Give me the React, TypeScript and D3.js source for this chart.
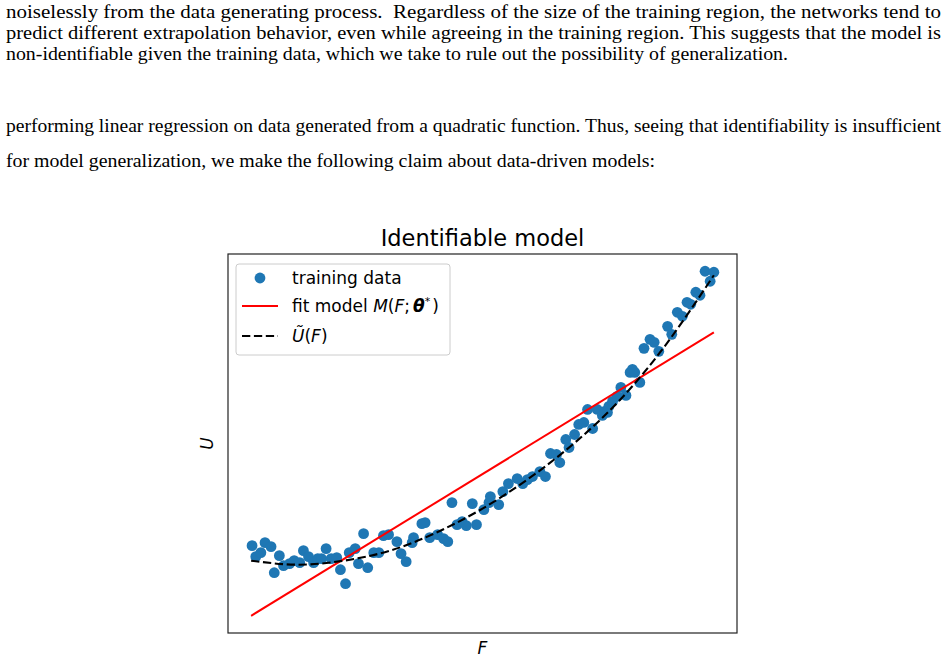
import * as d3 from "d3";
import React from "react";

// training samples drawn from the quadratic (F, U)
const sampleF = [
  0.002, 0.010, 0.021, 0.030, 0.043, 0.050, 0.061, 0.070, 0.083, 0.093,
  0.105, 0.113, 0.124, 0.135, 0.144, 0.152, 0.162, 0.173, 0.185, 0.193,
  0.204, 0.212, 0.225, 0.232, 0.243, 0.252, 0.265, 0.276, 0.286, 0.297,
  0.315, 0.324, 0.335, 0.348, 0.351, 0.369, 0.376, 0.386, 0.403, 0.416,
  0.425, 0.434, 0.445, 0.456, 0.465, 0.478, 0.487, 0.503, 0.514, 0.517,
  0.535, 0.544, 0.556, 0.575, 0.587, 0.597, 0.608, 0.624, 0.636, 0.647,
  0.660, 0.667, 0.680, 0.687, 0.699, 0.708, 0.719, 0.727, 0.738, 0.748,
  0.759, 0.764, 0.770, 0.773, 0.781, 0.791, 0.799, 0.810, 0.819, 0.824,
  0.829, 0.840, 0.849, 0.862, 0.871, 0.881, 0.900, 0.909, 0.921, 0.932,
  0.942, 0.950, 0.961, 0.970, 0.981, 0.992, 1.000,
];
const sampleU = [
  0.70, 0.59, 0.63, 0.73, 0.69, 0.43, 0.60, 0.50, 0.52, 0.55,
  0.53, 0.65, 0.59, 0.53, 0.57, 0.57, 0.67, 0.57, 0.58, 0.46,
  0.32, 0.63, 0.67, 0.52, 0.82, 0.48, 0.63, 0.63, 0.80, 0.81,
  0.74, 0.62, 0.54, 0.73, 0.78, 0.92, 0.93, 0.78, 0.81, 0.77,
  0.74, 1.13, 0.91, 0.94, 0.90, 1.12, 0.91, 1.06, 1.13, 1.19,
  1.11, 1.24, 1.32, 1.37, 1.32, 1.36, 1.39, 1.44, 1.39, 1.62,
  1.61, 1.53, 1.76, 1.68, 1.81, 1.91, 1.93, 2.06, 1.87, 2.06,
  2.00, 2.04, 2.03, 2.09, 2.14, 2.19, 2.28, 2.20, 2.43, 2.46,
  2.43, 2.33, 2.67, 2.76, 2.73, 2.64, 2.89, 2.81, 3.03, 2.99,
  3.13, 3.11, 3.23, 3.20, 3.44, 3.34, 3.43,
];

// linear model M(F; θ*) at the ends of the training range
const fitF = [0, 1];
const fitU = [0, 2.83];

// data-generating function Ũ(F)
const trueF = [0, 0.1, 0.2, 0.3, 0.4, 0.5, 0.6, 0.7, 0.8, 0.9, 1.0];
const trueU = [0.55, 0.51, 0.55, 0.65, 0.83, 1.07, 1.37, 1.73, 2.17, 2.73, 3.40];

const title = "Identifiable model";
const xLabel = "F";
const yLabel = "U";

const paragraphOne = [
  "noiselessly from the data generating process.\u00a0 Regardless of the size of the training region, the networks tend to",
  "predict different extrapolation behavior, even while agreeing in the training region. This suggests that the model is",
  "non-identifiable given the training data, which we take to rule out the possibility of generalization.",
];
const paragraphTwo = [
  "performing linear regression on data generated from a quadratic function. Thus, seeing that identifiability is insufficient",
  "for model generalization, we make the following claim about data-driven models:",
];

const W = 948;
const H = 662;
const box = { left: 228, right: 737, top: 254, bottom: 633 };
const blue = "#1f77b4";
const sans = "'DejaVu Sans', sans-serif";
const serif = "'Liberation Serif', 'Times New Roman', serif";
const dash = "8.3,3.6";

export default function App() {
  const allF = [...sampleF, ...fitF, ...trueF];
  const allU = [...sampleU, ...fitU, ...trueU];
  const [f0, f1] = d3.extent(allF) as [number, number];
  const [u0, u1] = d3.extent(allU) as [number, number];
  const padF = (f1 - f0) * 0.05;
  const padU = (u1 - u0) * 0.05;

  const x = d3.scaleLinear().domain([f0 - padF, f1 + padF]).range([box.left, box.right]);
  const y = d3.scaleLinear().domain([u0 - padU, u1 + padU]).range([box.bottom, box.top]);

  const line = d3.line<number>().x((_, i) => x(fitF[i])).y((d) => y(d));
  const curve = d3
    .line<number>()
    .x((_, i) => x(trueF[i]))
    .y((d) => y(d))
    .curve(d3.curveNatural);

  // body text: full lines are justified, the last line of a paragraph keeps its width
  const textRows = [
    { text: paragraphOne[0], base: 17.5, width: 935 },
    { text: paragraphOne[1], base: 38.5, width: 935 },
    { text: paragraphOne[2], base: 59.5, width: 782 },
    { text: paragraphTwo[0], base: 131.5, width: 935 },
    { text: paragraphTwo[1], base: 166.5, width: 649 },
  ];

  const legendX = 236;
  const legendY = 264;
  const rowY = [278, 306, 336];

  return (
    <svg
      width={W}
      height={H}
      style={{ position: "absolute", left: 0, top: 0, background: "#fff" }}
    >
      <rect width={W} height={H} fill="#fff" />

      {textRows.map((r, i) => (
        <text
          key={i}
          x={6}
          y={r.base}
          fontFamily={serif}
          fontSize={19.5}
          fill="#000"
          textLength={r.width}
          lengthAdjust="spacingAndGlyphs"
        >
          {r.text}
        </text>
      ))}

      <text
        x={(box.left + box.right) / 2}
        y={246}
        textAnchor="middle"
        fontFamily={sans}
        fontSize={22.5}
        fill="#000"
      >
        {title}
      </text>

      <g>
        {sampleU.map((u, i) => (
          <circle key={i} cx={x(sampleF[i])} cy={y(u)} r={5.4} fill={blue} />
        ))}
      </g>

      <path d={line(fitU) ?? ""} fill="none" stroke="#ff0000" strokeWidth={2} />
      <path
        d={curve(trueU) ?? ""}
        fill="none"
        stroke="#000"
        strokeWidth={2.1}
        strokeDasharray={dash}
      />

      <rect
        x={box.left}
        y={box.top}
        width={box.right - box.left}
        height={box.bottom - box.top}
        fill="none"
        stroke="#222"
        strokeWidth={1.2}
      />

      {/* legend */}
      <rect
        x={legendX}
        y={legendY}
        width={214}
        height={91}
        rx={3}
        fill="#fff"
        fillOpacity={0.8}
        stroke="#cccccc"
        strokeWidth={1}
      />
      <circle cx={260} cy={rowY[0]} r={5.4} fill={blue} />
      <line x1={242} x2={278} y1={rowY[1]} y2={rowY[1]} stroke="#ff0000" strokeWidth={2} />
      <line
        x1={242}
        x2={278}
        y1={rowY[2]}
        y2={rowY[2]}
        stroke="#000"
        strokeWidth={2.1}
        strokeDasharray={dash}
      />
      <g fontFamily={sans} fontSize={17} fill="#000">
        <text x={292} y={rowY[0] + 6}>training data</text>
        <text x={292} y={rowY[1] + 6}>
          fit model{" "}
          <tspan fontStyle="italic">M</tspan>(<tspan fontStyle="italic">F</tspan>;
          <tspan fontStyle="italic" fontWeight="bold" dx={3}>θ</tspan>
          <tspan fontSize={11} dy={-7}>*</tspan>
          <tspan dy={7} dx={2}>)</tspan>
        </text>
        <text x={292} y={rowY[2] + 6}>
          <tspan fontStyle="italic">Ũ</tspan>(<tspan fontStyle="italic">F</tspan>)
        </text>
      </g>

      <text
        x={(box.left + box.right) / 2}
        y={654}
        textAnchor="middle"
        fontFamily={sans}
        fontSize={17}
        fontStyle="italic"
      >
        {xLabel}
      </text>
      <text
        transform={`translate(213,${(box.top + box.bottom) / 2}) rotate(-90)`}
        textAnchor="middle"
        fontFamily={sans}
        fontSize={17}
        fontStyle="italic"
      >
        {yLabel}
      </text>
    </svg>
  );
}
